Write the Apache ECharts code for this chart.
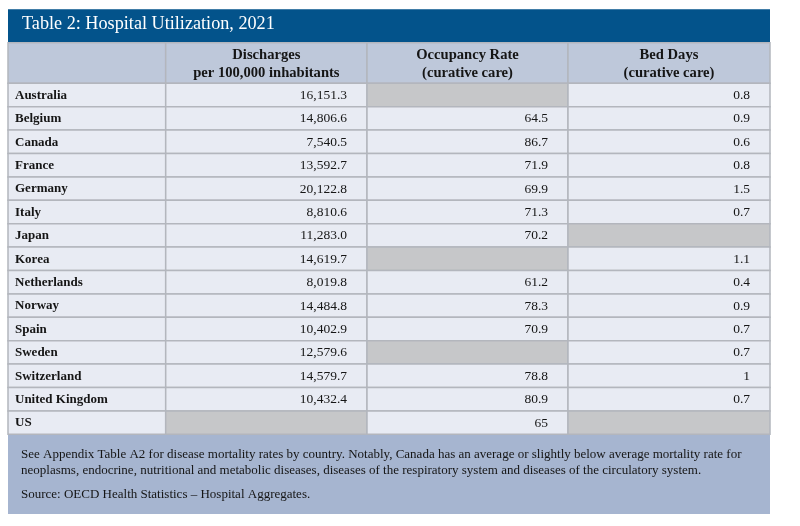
<!DOCTYPE html>
<html>
<head>
<meta charset="utf-8">
<script src="https://cdn.jsdelivr.net/npm/echarts@6/dist/echarts.min.js"></script>
<style>
  html, body { margin: 0; padding: 0; background: #fff; }
  #chart { width: 800px; height: 526px; }
</style>
</head>
<body>
<div id="chart"></div>
<script>
// table data
const TITLE = 'Table 2: Hospital Utilization, 2021';
const headers = ['', 'Discharges\nper 100,000 inhabitants', 'Occupancy Rate\n(curative care)', 'Bed Days\n(curative care)'];
const countries = ['Australia', 'Belgium', 'Canada', 'France', 'Germany', 'Italy', 'Japan', 'Korea',
  'Netherlands', 'Norway', 'Spain', 'Sweden', 'Switzerland', 'United Kingdom', 'US'];
const discharges = [16151.3, 14806.6, 7540.5, 13592.7, 20122.8, 8810.6, 11283.0, 14619.7,
  8019.8, 14484.8, 10402.9, 12579.6, 14579.7, 10432.4, null];
const occupancy = [null, 64.5, 86.7, 71.9, 69.9, 71.3, 70.2, null, 61.2, 78.3, 70.9, null, 78.8, 80.9, 65];
const bedDays = [0.8, 0.9, 0.6, 0.8, 1.5, 0.7, null, 1.1, 0.4, 0.9, 0.7, 0.7, 1, 0.7, null];
const notes = [
  'See Appendix Table A2 for disease mortality rates by country. Notably, Canada has an average or slightly below average mortality rate for',
  'neoplasms, endocrine, nutritional and metabolic diseases, diseases of the respiratory system and diseases of the circulatory system.'
];
const SOURCE = 'Source: OECD Health Statistics \u2013 Hospital Aggregates.';

// layout (column edges in px units of the x axis)
const COL_EDGES = [0, 157.7, 359, 560, 762];
const FONT = '"Liberation Serif", "DejaVu Serif", serif';
const LINE = '#b3b6bd';

const fmtDischarge = v => v.toLocaleString('en-US', { minimumFractionDigits: 1, maximumFractionDigits: 1 });

// build cells: [x0, x1, row]
const headerCells = headers.map((h, c) => ({ value: [COL_EDGES[c], COL_EDGES[c + 1], 0], text: h, kind: 'head' }));
const bodyCells = [];
countries.forEach((name, r) => {
  bodyCells.push({ value: [COL_EDGES[0], COL_EDGES[1], r], text: name, kind: 'label' });
  [[discharges[r], fmtDischarge], [occupancy[r], String], [bedDays[r], String]].forEach(([v, fmt], i) => {
    bodyCells.push({
      value: [COL_EDGES[i + 1], COL_EDGES[i + 2], r],
      text: v == null ? '' : fmt(v),
      kind: v == null ? 'empty' : 'num'
    });
  });
});

function makeRender(cells) {
  return function (params, api) {
    const cell = cells[params.dataIndex];
    const row = api.value(2);
    const p0 = api.coord([api.value(0), row]);
    const p1 = api.coord([api.value(1), row]);
    const h = api.size([0, 1])[1];
    const fill = cell.kind === 'head' ? '#bec8da' : cell.kind === 'empty' ? '#c6c7c9' : '#e8ebf3';
    const children = [{
      type: 'rect',
      shape: { x: p0[0], y: p0[1] - h / 2, width: p1[0] - p0[0], height: h },
      style: { fill: fill, stroke: LINE, lineWidth: 1.5 }
    }];
    if (cell.text) {
      let tx, align, font;
      if (cell.kind === 'head') { tx = (p0[0] + p1[0]) / 2; align = 'center'; font = 'bold 14.6px ' + FONT; }
      else if (cell.kind === 'label') { tx = p0[0] + 7; align = 'left'; font = 'bold 13px ' + FONT; }
      else { tx = p1[0] - 20; align = 'right'; font = 'normal 13.5px ' + FONT; }
      children.push({
        type: 'text',
        style: {
          x: tx, y: p0[1] + (cell.kind === 'head' ? 1.5 : 0.5),
          text: cell.text, align: align, verticalAlign: 'middle',
          font: font, fill: '#151515', lineHeight: 17.7
        }
      });
    }
    return { type: 'group', children: children };
  };
}

const chart = echarts.init(document.getElementById('chart'), null, { renderer: 'canvas' });

const hiddenX = gi => ({ type: 'value', gridIndex: gi, min: 0, max: 762, show: false });

chart.setOption({
  animation: false,
  backgroundColor: '#fff',
  grid: [
    { left: 8, right: 30, top: 42.7, height: 40.6 },
    { left: 8, right: 30, top: 83.3, height: 351 }
  ],
  xAxis: [hiddenX(0), hiddenX(1)],
  yAxis: [
    { type: 'category', gridIndex: 0, data: ['header'], show: false },
    { type: 'category', gridIndex: 1, data: countries, inverse: true, show: false }
  ],
  graphic: [
    { type: 'rect', shape: { x: 8, y: 9.3, width: 762, height: 33.4 }, style: { fill: '#03538b' }, z: 0 },
    {
      type: 'text', left: 22, top: 15,
      style: { text: TITLE, font: 'normal 18.2px ' + FONT, fill: '#fff' }
    },
    { type: 'rect', shape: { x: 8, y: 434.3, width: 762, height: 79.7 }, style: { fill: '#a6b5d0' }, z: 0 },
    {
      type: 'text', left: 21, top: 447,
      style: { text: notes.join('\n'), font: 'normal 13px ' + FONT, fill: '#151515', lineHeight: 16 }
    },
    {
      type: 'text', left: 21, top: 488,
      style: { text: SOURCE, font: 'normal 13px ' + FONT, fill: '#151515' }
    }
  ],
  series: [
    {
      type: 'custom', xAxisIndex: 0, yAxisIndex: 0,
      encode: { x: [0, 1], y: 2 },
      data: headerCells.map(c => c.value),
      renderItem: makeRender(headerCells)
    },
    {
      type: 'custom', xAxisIndex: 1, yAxisIndex: 1,
      encode: { x: [0, 1], y: 2 },
      data: bodyCells.map(c => c.value),
      renderItem: makeRender(bodyCells)
    }
  ]
});
</script>
</body>
</html>
